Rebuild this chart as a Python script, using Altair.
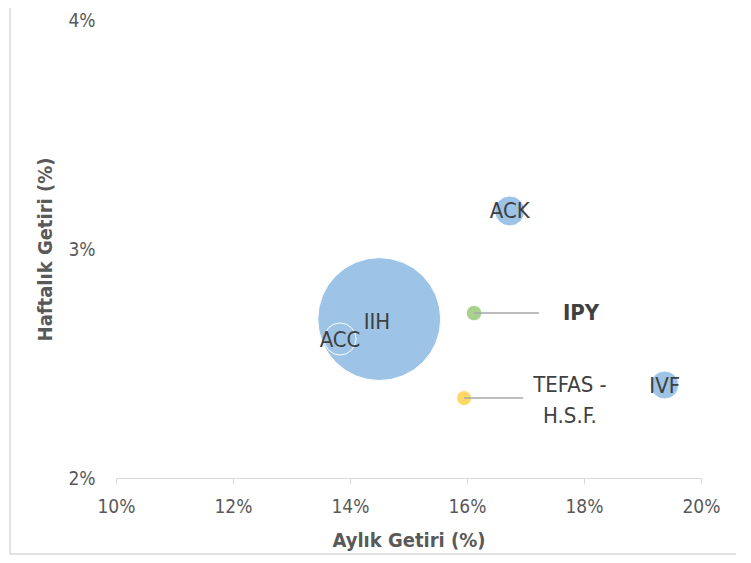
import altair as alt
import pandas as pd

funds = ["IIH", "ACC", "ACK", "IVF", "IPY", "TEFAS"]
aylik = [14.50, 13.83, 16.73, 19.38, 16.12, 15.95]
haftalik = [2.694, 2.607, 3.166, 2.406, 2.72, 2.349]
bubble = [100, 6.8, 5.95, 5.2, 1.6, 1.5]
colors = ["#9DC3E6", "#9DC3E6", "#9DC3E6", "#9DC3E6", "#A9D18E", "#FFD966"]

label_text = ["IIH", "ACC", "ACK", "IVF", "IPY", "TEFAS -\nH.S.F."]
label_x = [14.46, 13.83, 16.73, 19.38, 17.95, 17.76]
label_y = [2.681, 2.603, 3.166, 2.40, 2.72, 2.406]
label_bold = [False, False, False, False, True, False]

leader_x = [16.12, 15.95]
leader_x2 = [17.23, 16.96]
leader_y = [2.72, 2.349]

x_ticks = [10, 12, 14, 16, 18, 20]
y_ticks = [2, 3, 4]

FONT = "Liberation Sans Narrow, Arial Narrow, DejaVu Sans Condensed, sans-serif"

pts = pd.DataFrame({"fund": funds, "x": aylik, "y": haftalik, "b": bubble,
                    "c": colors, "o": list(range(len(funds)))})
lbl = pd.DataFrame({"t": label_text, "x": label_x, "y": label_y, "bold": label_bold})
lead = pd.DataFrame({"x": leader_x, "x2": leader_x2, "y": leader_y})

xs = alt.Scale(domain=[10, 20], nice=False)
ys = alt.Scale(domain=[2, 4], nice=False)

xaxis = alt.Axis(values=x_ticks, labelExpr="datum.value + '%'", grid=False,
                 domainColor="#D9D9D9", tickColor="#D9D9D9", tickSize=6,
                 labelFontSize=19, labelColor="#595959", labelPadding=13,
                 labelFlush=False,
                 title="Aylık Getiri (%)", titleFontSize=20, titleFontWeight="bold",
                 titleColor="#595959", titlePadding=14)
yaxis = alt.Axis(values=y_ticks, labelExpr="datum.value + '%'", grid=False,
                 domain=False, ticks=False, labelFontSize=19, labelColor="#595959",
                 labelPadding=21, labelFlush=False,
                 title="Haftalık Getiri (%)", titleFontSize=20,
                 titleFontWeight="bold", titleColor="#595959", titlePadding=12)

frame = alt.Chart(pd.DataFrame({"a": [0]})).mark_rect(
    fill=None, stroke="#D9D9D9", strokeWidth=1.5, clip=False
).encode(x=alt.value(-106), x2=alt.value(623), y=alt.value(-40), y2=alt.value(534))

bubbles = alt.Chart(pts).mark_circle(opacity=1, stroke="white", strokeWidth=1).encode(
    x=alt.X("x:Q", scale=xs, axis=xaxis),
    y=alt.Y("y:Q", scale=ys, axis=yaxis),
    size=alt.Size("b:Q", scale=alt.Scale(domain=[0, 100], range=[0, 15100]), legend=None),
    color=alt.Color("c:N", scale=None),
    order=alt.Order("o:Q"),
)

leaders = alt.Chart(lead).mark_rule(color="#A6A6A6", strokeWidth=1.5).encode(
    x=alt.X("x:Q", scale=xs), x2="x2:Q", y=alt.Y("y:Q", scale=ys)
)

base_lbl = alt.Chart(lbl)
labels_n = base_lbl.transform_filter("!datum.bold").mark_text(
    fontSize=22, color="#404040", baseline="middle", align="center",
    lineBreak="\n", lineHeight=31).encode(
    x=alt.X("x:Q", scale=xs), y=alt.Y("y:Q", scale=ys), text="t:N")
labels_b = base_lbl.transform_filter("datum.bold").mark_text(
    fontSize=22, color="#404040", baseline="middle", align="center",
    fontWeight="bold").encode(
    x=alt.X("x:Q", scale=xs), y=alt.Y("y:Q", scale=ys), text="t:N")

chart = alt.layer(frame, bubbles, leaders, labels_n, labels_b).properties(
    width=585, height=458,
    autosize=alt.AutoSizeParams(type="none"),
    padding={"left": 108, "top": 12, "right": 35, "bottom": 77},
).configure(font=FONT).configure_view(stroke=None)

chart.save("out.html", embed_options={"renderer": "svg", "actions": False})
